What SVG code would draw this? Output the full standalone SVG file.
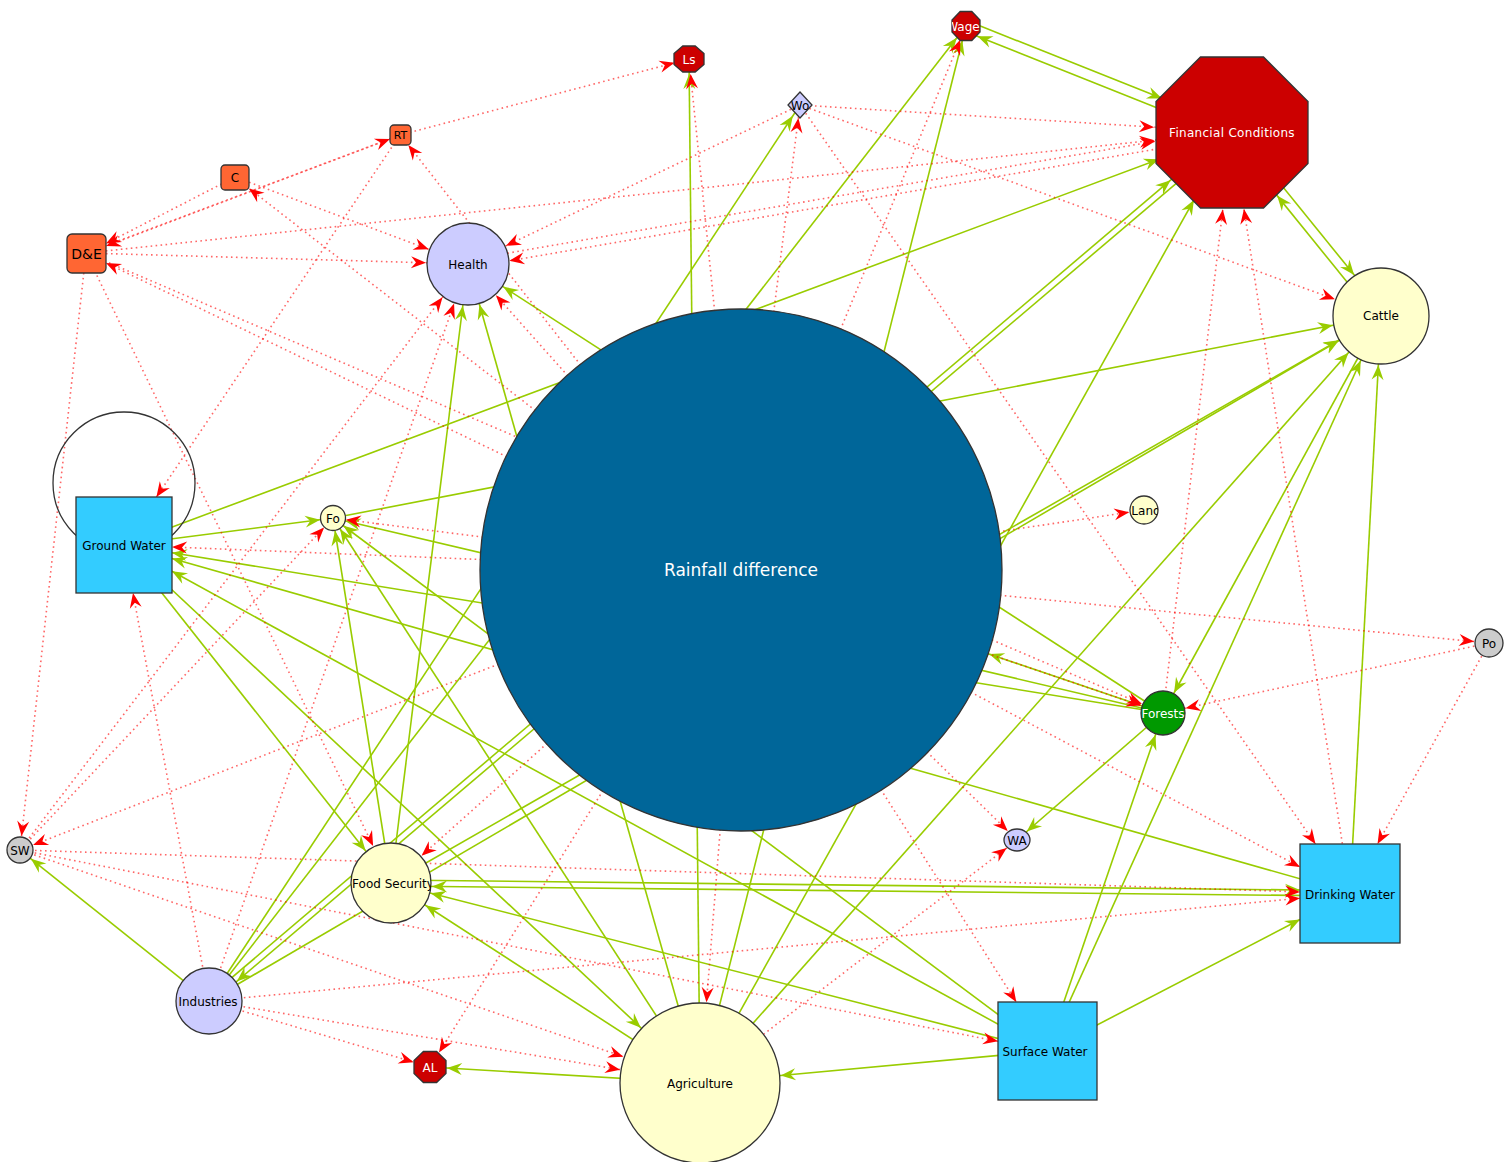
<svg xmlns="http://www.w3.org/2000/svg" width="1507" height="1162" viewBox="0 0 1507 1162">
<style>
.g{stroke:#99cc00;stroke-width:1.6;fill:none}
.r{stroke:#ff0000;stroke-width:1.6;stroke-opacity:0.6;stroke-dasharray:1.6 3.4;fill:none}
.nd{stroke:#333;stroke-width:1.3}
.t{font-family:"DejaVu Sans","Liberation Sans",sans-serif;font-size:12px;text-anchor:middle;fill:#000}
.w{fill:#fff}
</style>
<defs>
<marker id="g0" markerUnits="userSpaceOnUse" orient="auto" refX="0" refY="0" overflow="visible"><path d="M0,0 L-15,-6 L-10,0 L-15,6 Z" fill="#99cc00"/></marker>
<marker id="g12" markerUnits="userSpaceOnUse" orient="auto" refX="13" refY="0" overflow="visible"><path d="M0,0 L-15,-6 L-10,0 L-15,6 Z" fill="#99cc00"/></marker>
<marker id="g13" markerUnits="userSpaceOnUse" orient="auto" refX="14" refY="0" overflow="visible"><path d="M0,0 L-15,-6 L-10,0 L-15,6 Z" fill="#99cc00"/></marker>
<marker id="g14" markerUnits="userSpaceOnUse" orient="auto" refX="15" refY="0" overflow="visible"><path d="M0,0 L-15,-6 L-10,0 L-15,6 Z" fill="#99cc00"/></marker>
<marker id="g16" markerUnits="userSpaceOnUse" orient="auto" refX="17" refY="0" overflow="visible"><path d="M0,0 L-15,-6 L-10,0 L-15,6 Z" fill="#99cc00"/></marker>
<marker id="g22" markerUnits="userSpaceOnUse" orient="auto" refX="23" refY="0" overflow="visible"><path d="M0,0 L-15,-6 L-10,0 L-15,6 Z" fill="#99cc00"/></marker>
<marker id="g33" markerUnits="userSpaceOnUse" orient="auto" refX="34" refY="0" overflow="visible"><path d="M0,0 L-15,-6 L-10,0 L-15,6 Z" fill="#99cc00"/></marker>
<marker id="g40" markerUnits="userSpaceOnUse" orient="auto" refX="41" refY="0" overflow="visible"><path d="M0,0 L-15,-6 L-10,0 L-15,6 Z" fill="#99cc00"/></marker>
<marker id="g41" markerUnits="userSpaceOnUse" orient="auto" refX="42" refY="0" overflow="visible"><path d="M0,0 L-15,-6 L-10,0 L-15,6 Z" fill="#99cc00"/></marker>
<marker id="g48" markerUnits="userSpaceOnUse" orient="auto" refX="49" refY="0" overflow="visible"><path d="M0,0 L-15,-6 L-10,0 L-15,6 Z" fill="#99cc00"/></marker>
<marker id="g78" markerUnits="userSpaceOnUse" orient="auto" refX="78" refY="0" overflow="visible"><path d="M0,0 L-15,-6 L-10,0 L-15,6 Z" fill="#99cc00"/></marker>
<marker id="g80" markerUnits="userSpaceOnUse" orient="auto" refX="81" refY="0" overflow="visible"><path d="M0,0 L-15,-6 L-10,0 L-15,6 Z" fill="#99cc00"/></marker>
<marker id="g261" markerUnits="userSpaceOnUse" orient="auto" refX="262" refY="0" overflow="visible"><path d="M0,0 L-15,-6 L-10,0 L-15,6 Z" fill="#99cc00"/></marker>
<marker id="r0" markerUnits="userSpaceOnUse" orient="auto" refX="0" refY="0" overflow="visible"><path d="M0,0 L-15,-6 L-10,0 L-15,6 Z" fill="#ff0000"/></marker>
<marker id="r12" markerUnits="userSpaceOnUse" orient="auto" refX="13" refY="0" overflow="visible"><path d="M0,0 L-15,-6 L-10,0 L-15,6 Z" fill="#ff0000"/></marker>
<marker id="r13" markerUnits="userSpaceOnUse" orient="auto" refX="14" refY="0" overflow="visible"><path d="M0,0 L-15,-6 L-10,0 L-15,6 Z" fill="#ff0000"/></marker>
<marker id="r14" markerUnits="userSpaceOnUse" orient="auto" refX="15" refY="0" overflow="visible"><path d="M0,0 L-15,-6 L-10,0 L-15,6 Z" fill="#ff0000"/></marker>
<marker id="r16" markerUnits="userSpaceOnUse" orient="auto" refX="17" refY="0" overflow="visible"><path d="M0,0 L-15,-6 L-10,0 L-15,6 Z" fill="#ff0000"/></marker>
<marker id="r22" markerUnits="userSpaceOnUse" orient="auto" refX="23" refY="0" overflow="visible"><path d="M0,0 L-15,-6 L-10,0 L-15,6 Z" fill="#ff0000"/></marker>
<marker id="r40" markerUnits="userSpaceOnUse" orient="auto" refX="41" refY="0" overflow="visible"><path d="M0,0 L-15,-6 L-10,0 L-15,6 Z" fill="#ff0000"/></marker>
<marker id="r41" markerUnits="userSpaceOnUse" orient="auto" refX="42" refY="0" overflow="visible"><path d="M0,0 L-15,-6 L-10,0 L-15,6 Z" fill="#ff0000"/></marker>
<marker id="r48" markerUnits="userSpaceOnUse" orient="auto" refX="49" refY="0" overflow="visible"><path d="M0,0 L-15,-6 L-10,0 L-15,6 Z" fill="#ff0000"/></marker>
<marker id="r78" markerUnits="userSpaceOnUse" orient="auto" refX="78" refY="0" overflow="visible"><path d="M0,0 L-15,-6 L-10,0 L-15,6 Z" fill="#ff0000"/></marker>
<marker id="r80" markerUnits="userSpaceOnUse" orient="auto" refX="81" refY="0" overflow="visible"><path d="M0,0 L-15,-6 L-10,0 L-15,6 Z" fill="#ff0000"/></marker>
<clipPath id="cWage"><polygon points="960.2,11.5 971.8,11.5 980,20 980,32 971.8,40.5 960.2,40.5 952,32 952,20"/></clipPath>
<clipPath id="cWo"><polygon points="800,92 812,105 800,118 788,105"/></clipPath>
<clipPath id="cLand"><circle cx="1144" cy="510" r="14"/></clipPath>
<clipPath id="cFor"><circle cx="1163" cy="713" r="22"/></clipPath>
<clipPath id="cFS"><circle cx="391" cy="883" r="40"/></clipPath>
<clipPath id="cInd"><circle cx="209" cy="1001" r="33"/></clipPath>
</defs>

<g id="connectors">
<!-- green -->
<line class="g" x1="968.5" y1="21.3" x2="1234.5" y2="127.3" marker-end="url(#g78)"/>
<line class="g" x1="1229.5" y1="136.7" x2="963.5" y2="30.7" marker-end="url(#g14)"/>
<line class="g" x1="209" y1="1001" x2="966" y2="26" marker-end="url(#g14)"/>
<line class="g" x1="700" y1="1083" x2="966" y2="26" marker-end="url(#g14)"/>
<line class="g" x1="209" y1="1001" x2="800" y2="105" marker-end="url(#g12)"/>
<line class="g" x1="700" y1="1083" x2="689" y2="59" marker-end="url(#g14)"/>
<line class="g" x1="124" y1="545" x2="1232" y2="132" marker-end="url(#g78)"/>
<line class="g" x1="207" y1="998.7" x2="1230" y2="129.7" marker-end="url(#g78)"/>
<line class="g" x1="1234" y1="134.3" x2="211" y2="1003.3" marker-end="url(#g33)"/>
<line class="g" x1="700" y1="1083" x2="1232" y2="132" marker-end="url(#g78)"/>
<line class="g" x1="1236" y1="129" x2="1385" y2="313" marker-end="url(#g48)"/>
<line class="g" x1="1377" y1="319" x2="1228" y2="135" marker-end="url(#g78)"/>
<line class="g" x1="333" y1="518" x2="1381" y2="316" marker-end="url(#g48)"/>
<line class="g" x1="391" y1="883" x2="1381" y2="316" marker-end="url(#g48)"/>
<line class="g" x1="700" y1="1083" x2="1381" y2="316" marker-end="url(#g48)"/>
<line class="g" x1="1047" y1="1051" x2="1381" y2="316" marker-end="url(#g48)"/>
<line class="g" x1="1350" y1="893" x2="1381" y2="316" marker-end="url(#g48)"/>
<line class="g" x1="1381" y1="316" x2="1163" y2="713" marker-end="url(#g22)"/>
<line class="g" x1="209" y1="1001" x2="1381" y2="316" marker-end="url(#g48)"/>
<line class="g" x1="124" y1="545" x2="333" y2="518" marker-end="url(#g12)"/>
<line class="g" x1="124" y1="545" x2="391" y2="883" marker-end="url(#g40)"/>
<line class="g" x1="124" y1="545" x2="700" y2="1083" marker-end="url(#g80)"/>
<line class="g" x1="1163" y1="713" x2="172" y2="552.8" marker-end="url(#g0)"/>
<line class="g" x1="1350" y1="893" x2="172" y2="558.6" marker-end="url(#g0)"/>
<line class="g" x1="1047" y1="1051" x2="172" y2="571.3" marker-end="url(#g0)"/>
<line class="g" x1="1163" y1="713" x2="741" y2="570" marker-end="url(#g261)"/>
<line class="g" x1="391" y1="883" x2="468" y2="264" marker-end="url(#g41)"/>
<line class="g" x1="700" y1="1083" x2="468" y2="264" marker-end="url(#g41)"/>
<line class="g" x1="1163" y1="713" x2="468" y2="264" marker-end="url(#g41)"/>
<line class="g" x1="391" y1="883" x2="333" y2="518" marker-end="url(#g12)"/>
<line class="g" x1="700" y1="1083" x2="333" y2="518" marker-end="url(#g12)"/>
<line class="g" x1="1047" y1="1051" x2="333" y2="518" marker-end="url(#g12)"/>
<line class="g" x1="1163" y1="713" x2="333" y2="518" marker-end="url(#g12)"/>
<line class="g" x1="209" y1="1001" x2="20" y2="850" marker-end="url(#g13)"/>
<line class="g" x1="700" y1="1083" x2="430" y2="1067" marker-end="url(#g16)"/>
<line class="g" x1="1163" y1="713" x2="1017" y2="840" marker-end="url(#g12)"/>
<line class="g" x1="1047" y1="1051" x2="1163" y2="713" marker-end="url(#g22)"/>
<line class="g" x1="1047" y1="1051" x2="1300" y2="919.5" marker-end="url(#g0)"/>
<line class="g" x1="391" y1="880" x2="1300" y2="890" marker-end="url(#g0)"/>
<line class="g" x1="1350" y1="896" x2="391" y2="886" marker-end="url(#g40)"/>
<line class="g" x1="1047" y1="1051" x2="391" y2="883" marker-end="url(#g40)"/>
<line class="g" x1="700" y1="1083" x2="391" y2="883" marker-end="url(#g40)"/>
<line class="g" x1="1047" y1="1051" x2="700" y2="1083" marker-end="url(#g80)"/>
<!-- red -->
<line class="r" x1="400" y1="135" x2="689" y2="59" marker-end="url(#r14)"/>
<line class="r" x1="741" y1="570" x2="689" y2="59" marker-end="url(#r14)"/>
<line class="r" x1="741" y1="570" x2="800" y2="105" marker-end="url(#r12)"/>
<line class="r" x1="741" y1="570" x2="966" y2="26" marker-end="url(#r14)"/>
<line class="r" x1="800" y1="105" x2="1232" y2="132" marker-end="url(#r78)"/>
<line class="r" x1="468" y1="260" x2="1232" y2="128" marker-end="url(#r78)"/>
<line class="r" x1="1232" y1="136" x2="468" y2="268" marker-end="url(#r41)"/>
<line class="r" x1="86" y1="253" x2="1232" y2="132" marker-end="url(#r78)"/>
<line class="r" x1="1350" y1="893" x2="1232" y2="132" marker-end="url(#r78)"/>
<line class="r" x1="1163" y1="713" x2="1232" y2="132" marker-end="url(#r78)"/>
<line class="r" x1="800" y1="105" x2="1381" y2="316" marker-end="url(#r48)"/>
<line class="r" x1="800" y1="105" x2="1315.5" y2="844" marker-end="url(#r0)"/>
<line class="r" x1="741" y1="570" x2="1144" y2="510" marker-end="url(#r14)"/>
<line class="r" x1="741" y1="570" x2="1489" y2="643" marker-end="url(#r14)"/>
<line class="r" x1="1489" y1="643" x2="1163" y2="713" marker-end="url(#r22)"/>
<line class="r" x1="1489" y1="643" x2="1377.5" y2="844" marker-end="url(#r0)"/>
<line class="r" x1="741" y1="570" x2="1163" y2="713" marker-end="url(#r22)"/>
<line class="r" x1="86" y1="253" x2="1163" y2="713" marker-end="url(#r22)"/>
<line class="r" x1="741" y1="570" x2="1017" y2="840" marker-end="url(#r12)"/>
<line class="r" x1="700" y1="1083" x2="1017" y2="840" marker-end="url(#r12)"/>
<line class="r" x1="209" y1="1001" x2="133" y2="593" marker-end="url(#r0)"/>
<line class="r" x1="400" y1="135" x2="156.4" y2="497" marker-end="url(#r0)"/>
<line class="r" x1="741" y1="570" x2="172" y2="547" marker-end="url(#r0)"/>
<line class="r" x1="86" y1="253" x2="468" y2="264" marker-end="url(#r41)"/>
<line class="r" x1="235" y1="177" x2="468" y2="264" marker-end="url(#r41)"/>
<line class="r" x1="86" y1="253" x2="390" y2="139" marker-end="url(#r0)"/>
<line class="r" x1="235" y1="177" x2="106" y2="243.5" marker-end="url(#r0)"/>
<line class="r" x1="400" y1="135" x2="106" y2="246.1" marker-end="url(#r0)"/>
<line class="r" x1="86" y1="253" x2="20" y2="850" marker-end="url(#r13)"/>
<line class="r" x1="86" y1="253" x2="391" y2="883" marker-end="url(#r40)"/>
<line class="r" x1="741" y1="570" x2="391" y2="883" marker-end="url(#r40)"/>
<line class="r" x1="741" y1="570" x2="20" y2="850" marker-end="url(#r13)"/>
<line class="r" x1="209" y1="1001" x2="430" y2="1067" marker-end="url(#r16)"/>
<line class="r" x1="741" y1="570" x2="430" y2="1067" marker-end="url(#r16)"/>
<line class="r" x1="209" y1="1001" x2="700" y2="1083" marker-end="url(#r80)"/>
<line class="r" x1="20" y1="850" x2="700" y2="1083" marker-end="url(#r80)"/>
<line class="r" x1="20" y1="850" x2="998" y2="1041.3" marker-end="url(#r0)"/>
<line class="r" x1="20" y1="850" x2="1300" y2="891.9" marker-end="url(#r0)"/>
<line class="r" x1="209" y1="1001" x2="1300" y2="898.2" marker-end="url(#r0)"/>
<line class="r" x1="741" y1="570" x2="700" y2="1083" marker-end="url(#r80)"/>
<line class="r" x1="741" y1="570" x2="1016.3" y2="1002" marker-end="url(#r0)"/>
<line class="r" x1="741" y1="570" x2="1300" y2="867" marker-end="url(#r0)"/>
<line class="r" x1="741" y1="570" x2="333" y2="518" marker-end="url(#r12)"/>
<line class="r" x1="20" y1="850" x2="333" y2="518" marker-end="url(#r12)"/>
<line class="r" x1="800" y1="105" x2="468" y2="264" marker-end="url(#r41)"/>
<line class="r" x1="741" y1="570" x2="468" y2="264" marker-end="url(#r41)"/>
<line class="r" x1="20" y1="850" x2="468" y2="264" marker-end="url(#r41)"/>
<line class="r" x1="209" y1="1001" x2="468" y2="264" marker-end="url(#r41)"/>
<line class="r" x1="741" y1="570" x2="249" y2="188.4" marker-end="url(#r0)"/>
<line class="r" x1="741" y1="570" x2="408.3" y2="145" marker-end="url(#r0)"/>
<line class="r" x1="741" y1="570" x2="106" y2="262.9" marker-end="url(#r0)"/>
<!-- self loop -->
<circle cx="124" cy="483" r="71" fill="none" stroke="#333" stroke-width="1.3"/>
</g>

<g id="n-rainfall"><circle class="nd" cx="741" cy="570" r="261" fill="#006699"/><text class="t w" x="741" y="576" style="font-size:17px">Rainfall difference</text></g>
<g id="n-fc"><polygon class="nd" points="1200.5,57 1263.5,57 1308,101.5 1308,163.5 1263.5,208 1200.5,208 1156,163.5 1156,101.5" fill="#cc0000"/><text class="t w" x="1232" y="137" style="letter-spacing:0.3px">Financial Conditions</text></g>
<g id="n-cattle"><circle class="nd" cx="1381" cy="316" r="48" fill="#ffffcc"/><text class="t" x="1381" y="320">Cattle</text></g>
<g id="n-health"><circle class="nd" cx="468" cy="264" r="41" fill="#ccccff"/><text class="t" x="468" y="269">Health</text></g>
<g id="n-de"><rect class="nd" x="67" y="234" width="39" height="39" rx="5" fill="#ff6633"/><text class="t" x="86.5" y="258.5" style="font-size:14px">D&amp;E</text></g>
<g id="n-c"><rect class="nd" x="221" y="165" width="28" height="25" rx="4" fill="#ff6633"/><text class="t" x="235" y="182">C</text></g>
<g id="n-rt"><rect class="nd" x="390" y="125" width="21" height="20" rx="4" fill="#ff6633"/><text class="t" x="400.5" y="139" style="font-size:11px">RT</text></g>
<g id="n-ls"><polygon class="nd" points="682.8,46 695.2,46 704,53.6 704,64.4 695.2,72 682.8,72 674,64.4 674,53.6" fill="#cc0000"/><text class="t w" x="689" y="64">Ls</text></g>
<g id="n-wo"><polygon class="nd" points="800,92 812,105 800,118 788,105" fill="#ccccff"/><text class="t" x="800" y="110" clip-path="url(#cWo)">Wo</text></g>
<g id="n-wage"><polygon class="nd" points="960.2,11.5 971.8,11.5 980,20 980,32 971.8,40.5 960.2,40.5 952,32 952,20" fill="#cc0000"/><text class="t w" x="963" y="31" clip-path="url(#cWage)">Wage</text></g>
<g id="n-gw"><rect class="nd" x="76" y="497" width="96" height="96" fill="#33ccff"/><text class="t" x="124" y="550">Ground Water</text></g>
<g id="n-fo"><circle class="nd" cx="333" cy="518" r="12.5" fill="#ffffcc"/><text class="t" x="333" y="523">Fo</text></g>
<g id="n-land"><circle class="nd" cx="1144" cy="510" r="14" fill="#ffffcc"/><text class="t" x="1146" y="515" clip-path="url(#cLand)">Land</text></g>
<g id="n-forests"><circle class="nd" cx="1163" cy="713" r="22" fill="#009900"/><text class="t w" x="1163" y="718" clip-path="url(#cFor)">Forests</text></g>
<g id="n-po"><circle class="nd" cx="1489" cy="643" r="14" fill="#cccccc"/><text class="t" x="1489" y="648">Po</text></g>
<g id="n-wa"><ellipse class="nd" cx="1017" cy="840" rx="13" ry="11" fill="#ccccff"/><text class="t" x="1017" y="845">WA</text></g>
<g id="n-sw"><circle class="nd" cx="20" cy="850" r="13" fill="#cccccc"/><text class="t" x="20" y="855">SW</text></g>
<g id="n-dw"><rect class="nd" x="1300" y="844" width="100" height="99" fill="#33ccff"/><text class="t" x="1350" y="899">Drinking Water</text></g>
<g id="n-swt"><rect class="nd" x="998" y="1002" width="99" height="98" fill="#33ccff"/><text class="t" x="1045" y="1056">Surface Water</text></g>
<g id="n-agr"><circle class="nd" cx="700" cy="1083" r="80" fill="#ffffcc"/><text class="t" x="700" y="1088">Agriculture</text></g>
<g id="n-fs"><circle class="nd" cx="391" cy="883" r="40" fill="#ffffcc"/><text class="t" x="393" y="888" clip-path="url(#cFS)">Food Security</text></g>
<g id="n-ind"><circle class="nd" cx="209" cy="1001" r="33" fill="#ccccff"/><text class="t" x="208" y="1006" clip-path="url(#cInd)">Industries</text></g>
<g id="n-al"><polygon class="nd" points="423.4,1051.5 436.6,1051.5 446,1060.6 446,1073.4 436.6,1082.5 423.4,1082.5 414,1073.4 414,1060.6" fill="#cc0000"/><text class="t w" x="430" y="1072">AL</text></g>
</svg>
